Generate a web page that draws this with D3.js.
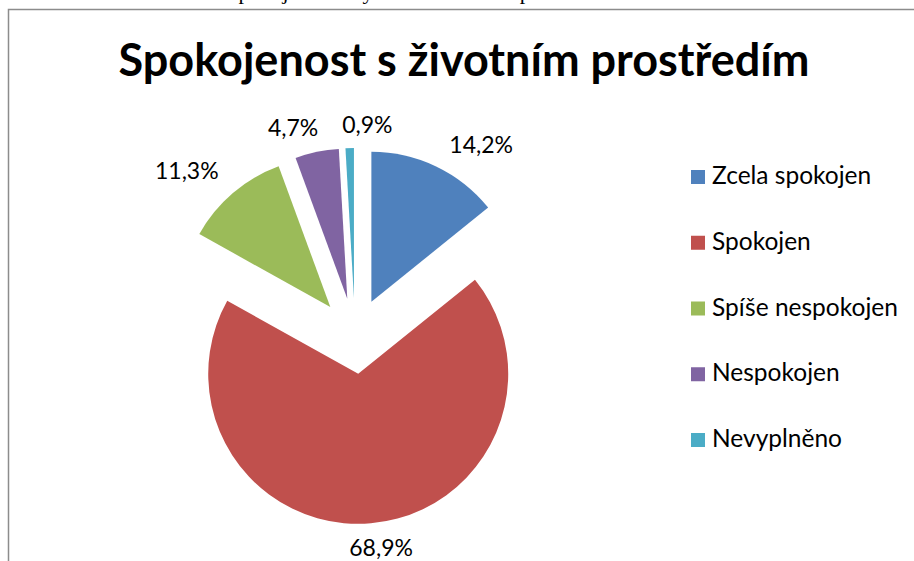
<!DOCTYPE html>
<html>
    <head>
        <meta charset="utf-8">
        <title>Spokojenost s životním prostředím</title>
        <script src="https://d3js.org/d3.v7.min.js"></script>
        <style>
            body { margin: 0; background: #fff; }
            svg { display: block; }
        </style>
    </head>
    <body>
        <svg width="914" height="561"></svg>
        <script>
            // data
            const categories = ["Zcela spokojen", "Spokojen", "Spíše nespokojen", "Nespokojen", "Nevyplněno"];
            const percentages = [14.2, 68.9, 11.3, 4.7, 0.9];
            const labels = ["14,2%", "68,9%", "11,3%", "4,7%", "0,9%"];
            const colors = ["#4F81BD", "#C0504D", "#9BBB59", "#8064A2", "#4BACC6"];
            // little pushes so labels sit where excel put them
            const labelNudge = [[39, -9], [9, 11], [-37, -11], [-21, -10], [18, -9]];

            const svg = d3.select('svg');
            const font = "Lato, 'Open Sans', sans-serif";

            // bit of the document text above the chart (cut off)
            svg.append("text")
                .attr("x", 62)
                .attr("y", -1)
                .style("font-family", "'Liberation Serif', serif")
                .style("font-size", "22px")
                .text("Graf č. 5: Celková spokojenost obyvatel s životním prostředím v obci Lesov");

            // chart frame
            svg.append("rect")
                .attr("x", 8.5)
                .attr("y", 9.5)
                .attr("width", 1000)
                .attr("height", 1000)
                .style("fill", "#fff")
                .style("stroke", "#8c8c8c")
                .style("stroke-width", 1.5);

            svg.append("text")
                .attr("x", 464)
                .attr("y", 76)
                .attr("text-anchor", "middle")
                .style("font-family", font)
                .style("font-weight", "bold")
                .style("font-size", "45px")
                .text("Spokojenost s životním prostředím");

            const cx = 355, cy = 336, radius = 150, explode = 38;

            const pie = d3.pie().sort(null).value(d => d);
            const arcs = pie(percentages);
            const arc = d3.arc().innerRadius(0).outerRadius(radius);

            const mid = d => (d.startAngle + d.endAngle) / 2;
            const dir = d => [Math.sin(mid(d)), -Math.cos(mid(d))];

            let g = svg.append("g")
                .attr("transform", "translate(" + cx + "," + cy + ")");

            g.selectAll('.slice')
                .data(arcs)
                .enter().append('path')
                .attr('class', 'slice')
                .attr('d', arc)
                .attr('transform', d => "translate(" + dir(d)[0] * explode + "," + dir(d)[1] * explode + ")")
                .style('fill', (d, i) => colors[i]);

            g.selectAll('.lbl')
                .data(arcs)
                .enter().append('text')
                .attr('class', 'lbl')
                .attr('x', (d, i) => dir(d)[0] * (explode + radius + 14) + labelNudge[i][0])
                .attr('y', (d, i) => dir(d)[1] * (explode + radius + 14) + labelNudge[i][1])
                .attr('dy', '0.35em')
                .attr('text-anchor', 'middle')
                .style('font-family', font)
                .style('font-size', '23px')
                .style('fill', '#000')
                .text((d, i) => labels[i]);

            // legend
            let legendY = d3.scalePoint()
                .domain(categories)
                .range([184, 447]);

            let legend = svg.append("g").attr("class", "legend");
            let item = legend.selectAll(".item")
                .data(categories)
                .enter().append("g")
                .attr("class", "item")
                .attr("transform", d => "translate(691," + legendY(d) + ")");

            item.append("rect")
                .attr("x", 0)
                .attr("y", -14)
                .attr("width", 14)
                .attr("height", 14)
                .style("fill", (d, i) => colors[i]);

            item.append("text")
                .attr("x", 21)
                .attr("y", 0)
                .style("font-family", font)
                .style("font-size", "24.5px")
                .text(d => d);
        </script>
    </body>
</html>
